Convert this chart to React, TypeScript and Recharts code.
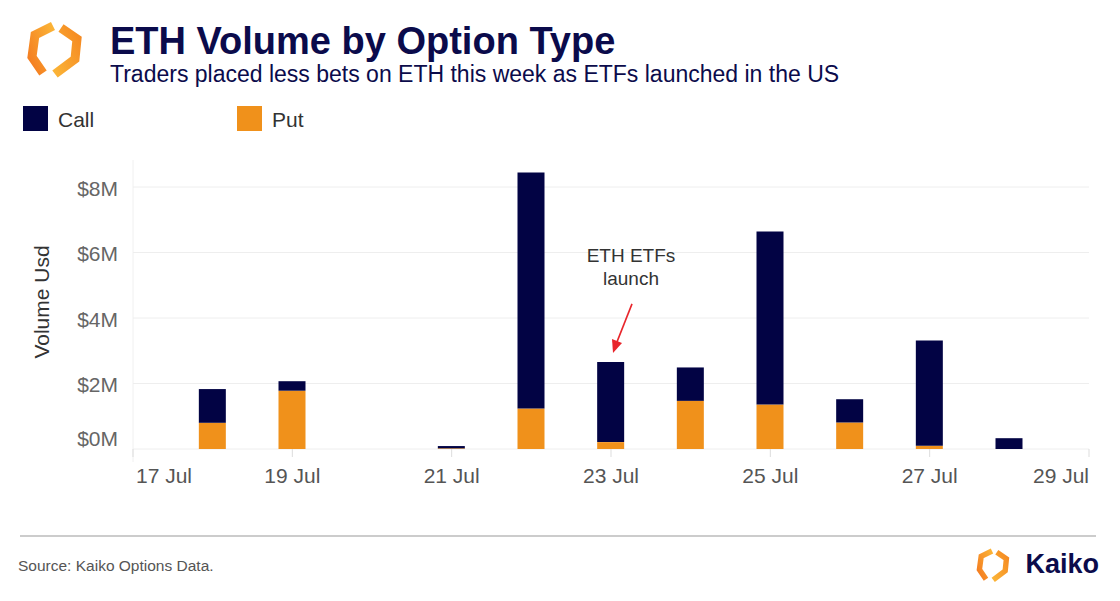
import React from "react";
import {
  Bar,
  BarChart,
  CartesianGrid,
  ReferenceDot,
  XAxis,
  YAxis,
} from "recharts";

// day of July
const days = [18, 19, 21, 22, 23, 24, 25, 26, 27, 28];
// volumes in $M
const callVolume = [1.03, 0.29, 0.07, 7.2, 2.45, 1.02, 5.28, 0.71, 3.21, 0.33];
const putVolume = [0.8, 1.78, 0.02, 1.24, 0.21, 1.47, 1.36, 0.81, 0.1, 0.0];

const xTicks = [17, 19, 21, 23, 25, 27, 29];
const yTicks = [0, 2e6, 4e6, 6e6, 8e6];

const launchDay = 23;

const CALL = "#020344";
const PUT = "#F0911B";
const NAVY = "#0B0B4B";
const FONT = "'Liberation Sans', Arial, sans-serif";

const data = days.map((d, i) => ({
  day: d,
  call: callVolume[i] * 1e6,
  put: putVolume[i] * 1e6,
}));

const launchIdx = days.indexOf(launchDay);
const launchTotal = (callVolume[launchIdx] + putVolume[launchIdx]) * 1e6;

const YTick = (props: any) => {
  const { x, y, payload } = props;
  return (
    <text
      x={x}
      y={y}
      dy={payload.value === 0 ? -11 : 1}
      textAnchor="end"
      dominantBaseline="central"
      fontSize={21}
      fontFamily={FONT}
      fill="#666"
    >
      {`$${payload.value / 1e6}M`}
    </text>
  );
};

const XTick = (props: any) => {
  const { x, y, payload } = props;
  const v = payload.value;
  const anchor =
    v === xTicks[0] ? "start" : v === xTicks[xTicks.length - 1] ? "end" : "middle";
  return (
    <text
      x={x + (anchor === "start" ? 3 : 0)}
      y={y}
      dy={15}
      textAnchor={anchor}
      fontSize={21}
      fontFamily={FONT}
      fill="#555"
    >
      {`${v} Jul`}
    </text>
  );
};

const Annotation = (props: any) => {
  const { cx, cy } = props;
  if (cx == null || cy == null) return null;
  return (
    <g>
      <text
        x={cx + 20}
        textAnchor="middle"
        fontSize={19}
        fontFamily={FONT}
        fill="#333"
      >
        <tspan x={cx + 20} y={cy - 100}>
          ETH ETFs
        </tspan>
        <tspan x={cx + 20} y={cy - 77}>
          launch
        </tspan>
      </text>
      <line
        x1={cx + 21}
        y1={cy - 58}
        x2={cx + 6}
        y2={cy - 20}
        stroke="#E8252B"
        strokeWidth={1.6}
      />
      <polygon
        points={`${cx + 2},${cy - 9} ${cx + 1},${cy - 23} ${cx + 11},${cy - 19}`}
        fill="#E8252B"
      />
    </g>
  );
};

const Logo = ({ x, y, s }: { x: number; y: number; s: number }) => (
  <g transform={`translate(${x},${y}) scale(${s})`}>
    <defs>
      <linearGradient id={`lg${x}`} x1="0" y1="1" x2="1" y2="0">
        <stop offset="0" stopColor="#F47B20" />
        <stop offset="1" stopColor="#FBB437" />
      </linearGradient>
      <linearGradient id={`rg${x}`} x1="1" y1="0" x2="0" y2="1">
        <stop offset="0" stopColor="#F58A22" />
        <stop offset="1" stopColor="#FBB437" />
      </linearGradient>
    </defs>
    <polyline
      points="30,5 12,14 9,36 20,52"
      fill="none"
      stroke={`url(#lg${x})`}
      strokeWidth={9}
      strokeLinejoin="miter"
    />
    <polyline
      points="38,7 54,18 52,38 32,53"
      fill="none"
      stroke={`url(#rg${x})`}
      strokeWidth={9}
      strokeLinejoin="miter"
    />
  </g>
);

export default function App() {
  return (
    <div
      style={{
        position: "relative",
        width: 1120,
        height: 601,
        background: "#fff",
        fontFamily: FONT,
      }}
    >
      <style>{"body{margin:0}"}</style>
      <svg
        width={1120}
        height={601}
        style={{ position: "absolute", left: 0, top: 0 }}
      >
        <Logo x={23} y={21} s={1} />
        <text x={110} y={54} fontSize={38} fontWeight="bold" fill={NAVY} fontFamily={FONT}>
          ETH Volume by Option Type
        </text>
        <text x={110} y={82} fontSize={23} fill={NAVY} fontFamily={FONT}>
          Traders placed less bets on ETH this week as ETFs launched in the US
        </text>

        <rect x={23} y={106} width={25} height={25} fill={CALL} />
        <text x={58} y={127} fontSize={21} fill="#333" fontFamily={FONT}>
          Call
        </text>
        <rect x={237} y={106} width={25} height={25} fill={PUT} />
        <text x={272} y={127} fontSize={21} fill="#333" fontFamily={FONT}>
          Put
        </text>

        <text
          x={0}
          y={0}
          transform="translate(49,302) rotate(-90)"
          textAnchor="middle"
          fontSize={21}
          fill="#333"
          fontFamily={FONT}
        >
          Volume Usd
        </text>

        <line x1={133} y1={160} x2={133} y2={462} stroke="#f0f0f0" strokeWidth={1} />

        <line x1={20} y1={536} x2={1096} y2={536} stroke="#bbb" strokeWidth={1.5} />
        <text x={18} y={571} fontSize={15.5} fill="#555" fontFamily={FONT}>
          Source: Kaiko Options Data.
        </text>
        <Logo x={974} y={548} s={0.6} />
        <text
          x={1099}
          y={573}
          textAnchor="end"
          fontSize={27}
          fontWeight="bold"
          fill={NAVY}
          fontFamily={FONT}
        >
          Kaiko
        </text>
      </svg>

      <div style={{ position: "absolute", left: 0, top: 0 }}>
        <BarChart
          width={1120}
          height={601}
          data={data}
          margin={{ top: 154.25, right: 31, bottom: 112, left: 73 }}
        >
          <CartesianGrid
            vertical={false}
            stroke="#eee"
            horizontalValues={yTicks}
          />
          <XAxis
            dataKey="day"
            type="number"
            domain={[17, 29]}
            ticks={xTicks}
            axisLine={false}
            tickLine={{ stroke: "#ddd" }}
            tickSize={8}
            tickMargin={11}
            height={40}
            tick={<XTick />}
            interval={0}
          />
          <YAxis
            type="number"
            domain={[0, 9e6]}
            ticks={yTicks}
            width={60}
            axisLine={false}
            tickLine={false}
            tickSize={6}
            tickMargin={9}
            tick={<YTick />}
            interval={0}
          />
          <Bar dataKey="put" stackId="v" fill={PUT} barSize={27} isAnimationActive={false} />
          <Bar dataKey="call" stackId="v" fill={CALL} barSize={27} isAnimationActive={false} />
          <ReferenceDot
            x={launchDay}
            y={launchTotal}
            r={0}
            shape={<Annotation />}
            ifOverflow="visible"
          />
        </BarChart>
      </div>
    </div>
  );
}
